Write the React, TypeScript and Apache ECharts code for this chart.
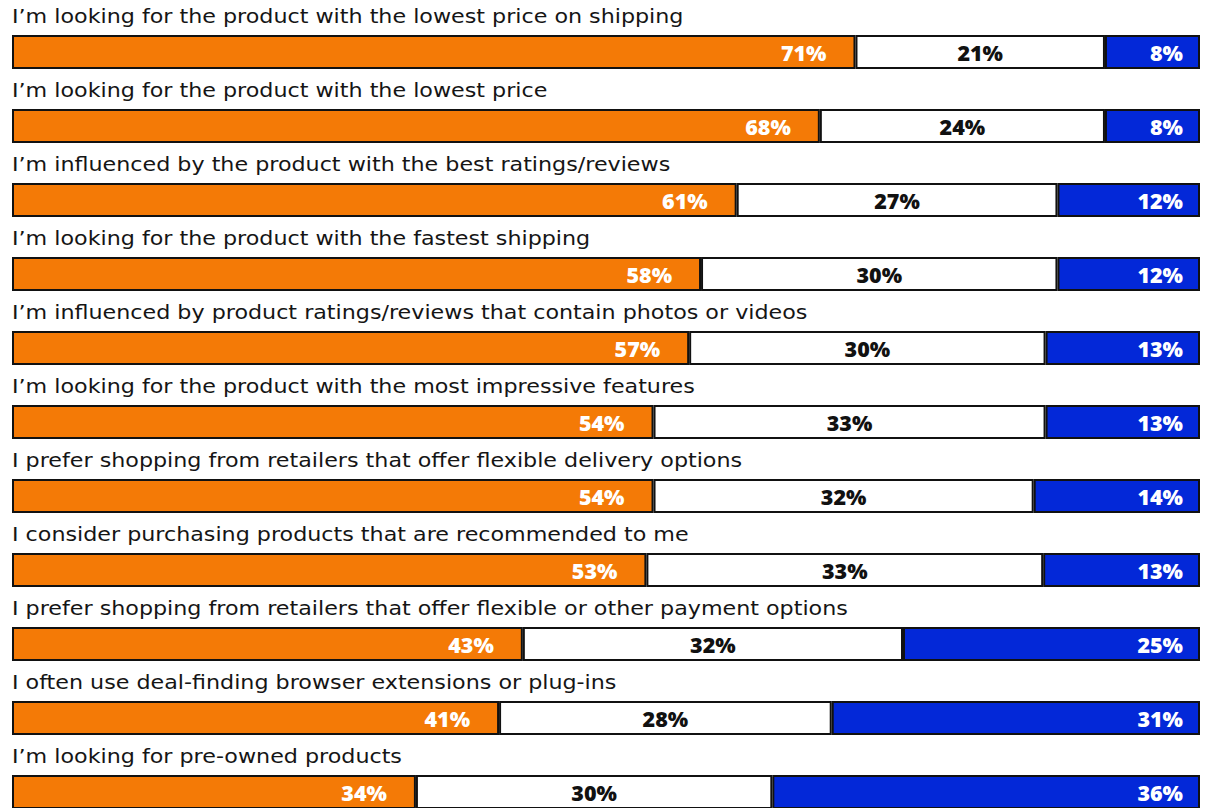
import React, { useEffect, useRef } from "react";
import * as echarts from "echarts";

const categories = [
  "I\u2019m looking for the product with the lowest price on shipping",
  "I\u2019m looking for the product with the lowest price",
  "I\u2019m influenced by the product with the best ratings/reviews",
  "I\u2019m looking for the product with the fastest shipping",
  "I\u2019m influenced by product ratings/reviews that contain photos or videos",
  "I\u2019m looking for the product with the most impressive features",
  "I prefer shopping from retailers that offer flexible delivery options",
  "I consider purchasing products that are recommended to me",
  "I prefer shopping from retailers that offer flexible or other payment options",
  "I often use deal-finding browser extensions or plug-ins",
  "I\u2019m looking for pre-owned products",
];
// shares; labels show the rounded percentages
const agree = [71, 68, 61, 58, 57, 54, 54, 53.4, 43, 41, 34];
const neutral = [21, 24, 27, 30, 30, 33, 32, 33.4, 32, 28, 30];
const disagree = [8, 8, 12, 12, 13, 13, 14, 13.2, 25, 31, 36];

const VALUE_FONT = "'Open Sans', sans-serif";
const TITLE_FONT = "'DejaVu Sans', sans-serif";

export default function App() {
  const ref = useRef<HTMLDivElement>(null);
  useEffect(() => {
    if (!ref.current) return;
    const chart = echarts.init(ref.current, null, { renderer: "svg" });
    const valueLabel = (color: string, position: any, distance: number) => ({
      show: true,
      position,
      distance,
      color,
      fontFamily: VALUE_FONT,
      fontWeight: 800,
      fontSize: 21.5,
      formatter: (p: any) => Math.round(p.value) + "%",
    });
    const border = { borderColor: "#111", borderWidth: 2 };
    chart.setOption({
      animation: false,
      grid: { left: 12, right: 5, top: 15, height: 814, outerBoundsMode: "none", containLabel: false },
      xAxis: { type: "value", min: 0, max: 100, show: false },
      yAxis: {
        type: "category",
        data: categories,
        inverse: true,
        show: false,
      },
      series: [
        {
          type: "bar",
          name: "Agree",
          stack: "s",
          data: agree,
          barWidth: 34,
          itemStyle: { color: "#F47A06", ...border },
          label: valueLabel("#fff", "insideRight", 29),
        },
        {
          type: "bar",
          name: "Neutral",
          stack: "s",
          data: neutral,
          barWidth: 34,
          itemStyle: { color: "#ffffff", ...border },
          label: valueLabel("#111", "inside", 0),
        },
        {
          type: "bar",
          name: "Disagree",
          stack: "s",
          data: disagree,
          barWidth: 34,
          itemStyle: { color: "#0328D8", ...border },
          label: valueLabel("#fff", "insideRight", 17),
        },
      ],
    });
    // category titles above each bar, positioned through the axes
    const titles = categories.map((name, i) => {
      const [px, py] = chart.convertToPixel({ gridIndex: 0 }, [0, i]) as number[];
      return {
        type: "text",
        x: px,
        y: py - 35.5,
        scaleX: 1.17,
        style: {
          text: name,
          fill: "#151515",
          fontFamily: TITLE_FONT,
          fontSize: 19,
          textAlign: "left",
          textVerticalAlign: "middle",
        },
      };
    });
    chart.setOption({ graphic: titles });
    return () => chart.dispose();
  }, []);
  return (
    <div
      ref={ref}
      style={{ position: "fixed", left: 0, top: 0, width: 1205, height: 840, background: "#fff" }}
    />
  );
}
